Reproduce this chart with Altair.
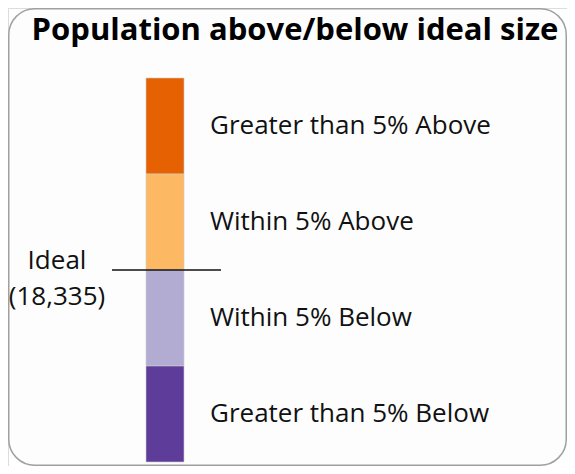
import altair as alt
import pandas as pd

title_text = "Population above/below ideal size"
categories = ["Greater than 5% Above", "Within 5% Above", "Within 5% Below", "Greater than 5% Below"]
lower = [1, 0, -1, -2]
upper = [2, 1, 0, -1]
colors = ["#e66101", "#fdb863", "#b2abd2", "#5e3c99"]
ideal_label = "Ideal"
ideal_value = "(18,335)"

df = pd.DataFrame({"cat": categories, "lo": lower, "hi": upper})
df["mid"] = (df["lo"] + df["hi"]) / 2

W, H = 559, 458
yscale = alt.Scale(domain=[-2.0417, 2.7292], range=[H, 0], nice=False, zero=False)
FONT = "Open Sans"
FS = 26

border = alt.Chart(pd.DataFrame({"a": [0]})).mark_rect(
    fill="#fdfdfd", stroke="#a0a0a0", strokeWidth=1.5, cornerRadius=26
).encode(x=alt.value(0.75), x2=alt.value(W - 0.75), y=alt.value(0.75), y2=alt.value(H - 0.75))

bars = alt.Chart(df).mark_rect(stroke="#cfcfcf", strokeWidth=0.6).encode(
    x=alt.value(138), x2=alt.value(176),
    y=alt.Y("hi:Q", scale=yscale, axis=None), y2="lo:Q",
    color=alt.Color("cat:N", scale=alt.Scale(domain=categories, range=colors), legend=None),
)

labels = alt.Chart(df).mark_text(
    align="left", baseline="middle", font=FONT, fontSize=FS, color="#111111"
).encode(x=alt.value(202), y=alt.Y("mid:Q", scale=yscale), text="cat:N")

ideal_df = pd.DataFrame({"v": [0], "l1": [ideal_label], "l2": [ideal_value]})
rule = alt.Chart(ideal_df).mark_rule(color="#111111", strokeWidth=1.5).encode(
    x=alt.value(104), x2=alt.value(213), y=alt.Y("v:Q", scale=yscale)
)
t1 = alt.Chart(ideal_df).mark_text(
    align="center", baseline="middle", font=FONT, fontSize=FS, color="#111111", dy=-9
).encode(x=alt.value(49), y=alt.Y("v:Q", scale=yscale), text="l1:N")
t2 = alt.Chart(ideal_df).mark_text(
    align="center", baseline="middle", font=FONT, fontSize=FS, color="#111111", dy=27
).encode(x=alt.value(49), y=alt.Y("v:Q", scale=yscale), text="l2:N")

title = alt.Chart(pd.DataFrame({"t": [title_text]})).mark_text(
    align="center", baseline="middle", font=FONT, fontSize=31, fontWeight="bold", color="#000000"
).encode(x=alt.value(287), y=alt.value(23), text="t:N")

chart = alt.layer(border, bars, rule, labels, t1, t2, title).properties(
    width=W, height=H, autosize=alt.AutoSizeParams(type="none"), padding=0
).configure_view(stroke=None).configure(background="white")

chart.save("out.html", embed_options={"renderer": "svg", "actions": False})
